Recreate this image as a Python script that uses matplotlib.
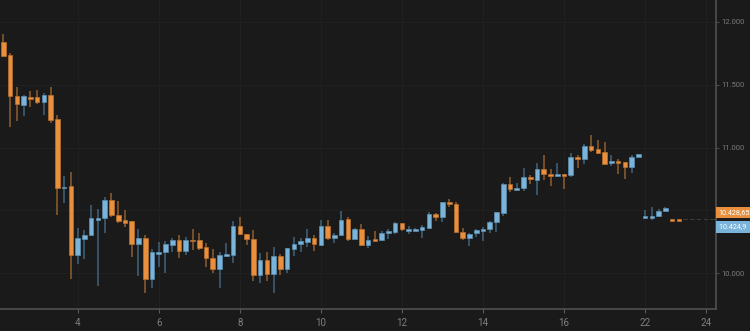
import numpy as np
import matplotlib.pyplot as plt

# OHLC candles, one per period (index = position on the x axis)
opens = [11838, 11737, 11413, 11339, 11401, 11403, 11366, 11419, 11226, 10676,
         10695, 10148, 10275, 10305, 10424, 10440, 10581, 10462, 10422, 10414,
         10231, 10283, 9955, 10154, 10170, 10228, 10267, 10177, 10267, 10263,
         10207, 10124, 10032, 10138, 10148, 10379, 10315, 10273, 9984, 10106,
         9994, 10135, 10032, 10193, 10231, 10251, 10283, 10225, 10379, 10283,
         10305, 10430, 10275, 10350, 10225, 10271, 10263, 10318, 10326, 10398,
         10334, 10334, 10345, 10360, 10472, 10450, 10565, 10549, 10331, 10283,
         10318, 10339, 10355, 10408, 10477, 10711, 10665, 10681, 10764, 10745,
         10832, 10790, 10774, 10790, 10785, 10923, 10907, 11015, 10989, 10963,
         10878, 10894, 10886, 10844, 10926, 10440, 10440, 10456, 10498, 10434,
         10434, 10428, 10428, 10428, 10428, 10428]
highs = [11904, 11756, 11480, 11419, 11453, 11459, 11437, 11485, 11260, 10774,
         10809, 10358, 10345, 10544, 10509, 10610, 10641, 10573, 10506, 10414,
         10355, 10305, 10191, 10247, 10257, 10283, 10302, 10286, 10355, 10318,
         10239, 10191, 10172, 10239, 10416, 10446, 10315, 10345, 10159, 10172,
         10209, 10154, 10199, 10286, 10283, 10350, 10302, 10424, 10424, 10323,
         10496, 10450, 10363, 10390, 10297, 10339, 10339, 10350, 10411, 10403,
         10376, 10360, 10382, 10485, 10482, 10570, 10591, 10567, 10358, 10323,
         10350, 10371, 10414, 10488, 10721, 10764, 10721, 10840, 10785, 10875,
         10939, 10828, 10875, 10790, 10955, 10941, 11029, 11101, 11058, 11045,
         10939, 10907, 10886, 10939, 10947, 10504, 10525, 10509, 10525, 10434,
         10434, 10428, 10428, 10428, 10428, 10428]
lows = [11724, 11167, 11214, 11252, 11321, 11347, 11260, 11194, 10464, 10557,
        9957, 10074, 10111, 10305, 9901, 10323, 10446, 10398, 10366, 10132,
        9979, 9841, 9885, 10053, 10005, 10167, 10124, 10146, 10185, 10185,
        10053, 10000, 9885, 10132, 10084, 10307, 10225, 9939, 9920, 9939,
        9846, 9986, 10005, 10140, 10172, 10212, 10180, 10220, 10265, 10244,
        10305, 10257, 10273, 10217, 10204, 10255, 10257, 10275, 10315, 10334,
        10315, 10334, 10281, 10355, 10419, 10411, 10530, 10318, 10265, 10217,
        10291, 10259, 10323, 10331, 10456, 10649, 10663, 10657, 10711, 10621,
        10742, 10695, 10766, 10668, 10764, 10836, 10867, 10968, 10949, 10870,
        10852, 10788, 10748, 10798, 10926, 10440, 10424, 10450, 10493, 10419,
        10419, 10428, 10428, 10428, 10428, 10428]
closes = [11732, 11411, 11345, 11409, 11387, 11366, 11419, 11220, 10676, 10689,
          10148, 10279, 10305, 10440, 10438, 10583, 10462, 10414, 10403, 10231,
          10283, 9955, 10170, 10170, 10236, 10267, 10177, 10267, 10255, 10201,
          10124, 10032, 10148, 10154, 10379, 10315, 10273, 9984, 10106, 9994,
          10135, 10032, 10199, 10231, 10257, 10283, 10231, 10379, 10283, 10305,
          10424, 10275, 10350, 10223, 10267, 10255, 10323, 10337, 10403, 10350,
          10350, 10350, 10366, 10472, 10446, 10565, 10549, 10326, 10283, 10315,
          10345, 10355, 10408, 10485, 10711, 10668, 10681, 10764, 10748, 10832,
          10790, 10774, 10790, 10774, 10926, 10907, 11011, 10984, 10955, 10870,
          10894, 10875, 10844, 10926, 10947, 10456, 10456, 10496, 10517, 10419,
          10419, 10428, 10428, 10428, 10428, 10428]

tick_pos = [11, 23, 35, 47, 59, 71, 83, 95, 104]
tick_labels = ['4', '6', '8', '10', '12', '14', '16', '22', '24']
y_ticks = [10000, 10500, 11000, 11500, 12000]

last_ask = 10428.65
last_bid = 10424.9

bg = '#1a1a1a'
up_c, up_wick = '#7ab4db', '#3e5e74'
dn_c, dn_wick = '#e8903d', '#87592c'
flat_c = '#3a3a3a'

plt.rcParams['font.family'] = ['Roboto', 'DejaVu Sans']

fig = plt.figure(figsize=(7.5, 3.31), dpi=100, facecolor=bg)
ax = fig.add_axes([0, 0.065, 0.9547, 0.935])
ax.set_facecolor(bg)

o = np.array(opens, dtype=float)
h = np.array(highs, dtype=float)
l = np.array(lows, dtype=float)
c = np.array(closes, dtype=float)
x = np.arange(len(o))

flat = (h == l)
up = (c >= o) & ~flat
dn = (c < o) & ~flat

# wicks
ax.vlines(x[up], l[up], h[up], color=up_wick, lw=1.2, zorder=2)
ax.vlines(x[dn], l[dn], h[dn], color=dn_wick, lw=1.2, zorder=2)

# bodies (minimum height so dojis stay visible)
min_h = 14
body_lo = np.minimum(o, c)
span = np.abs(c - o)
body_h = np.maximum(span, min_h)
ax.bar(x[up], body_h[up], bottom=body_lo[up] - (body_h[up] - span[up]) / 2,
       width=0.68, color=up_c, edgecolor='#5d8fb0', lw=0.5, zorder=3)
ax.bar(x[dn], body_h[dn], bottom=body_lo[dn] - (body_h[dn] - span[dn]) / 2,
       width=0.68, color=dn_c, edgecolor='#b8702f', lw=0.5, zorder=3)
ax.bar(x[flat], 10, bottom=l[flat] - 5, width=0.68, color=flat_c, lw=0, zorder=3)

ax.set_xlim(-0.5, 105.5)
ax.set_ylim(9712, 12175)

ax.set_xticks(tick_pos)
ax.set_xticklabels(tick_labels)
ax.yaxis.tick_right()
ax.set_yticks(y_ticks)
ax.set_yticklabels(['{:,}'.format(v).replace(',', '.') for v in y_ticks])
ax.tick_params(axis='x', colors='#5a5a5a', labelcolor='#808080', labelsize=7,
               length=3, width=0.8, pad=3)
ax.tick_params(axis='y', colors='#5a5a5a', labelcolor='#7a7a7a', labelsize=5.5,
               length=2, width=0.6, pad=2)

ax.grid(True, color='#202020', lw=0.8)
ax.set_axisbelow(True)
for s in ['top', 'left']:
    ax.spines[s].set_visible(False)
for s in ['bottom', 'right']:
    ax.spines[s].set_color('#505050')
    ax.spines[s].set_linewidth(1.2)

# last price boxes on the right axis
ytr = ax.get_yaxis_transform()
ax.annotate('10.428,65', xy=(1.0, last_ask), xycoords=ytr, xytext=(1.8, 5.0),
            textcoords='offset points', va='center', ha='left', fontsize=5.2,
            color='white', annotation_clip=False,
            bbox=dict(boxstyle='square,pad=0.3', fc=dn_c, ec='none'))
ax.annotate('10.424,9 ', xy=(1.0, last_bid), xycoords=ytr, xytext=(1.8, -5.0),
            textcoords='offset points', va='center', ha='left', fontsize=5.2,
            color='white', annotation_clip=False,
            bbox=dict(boxstyle='square,pad=0.3', fc=up_c, ec='none'))

fig.savefig('out.png', dpi=100, facecolor=bg)
